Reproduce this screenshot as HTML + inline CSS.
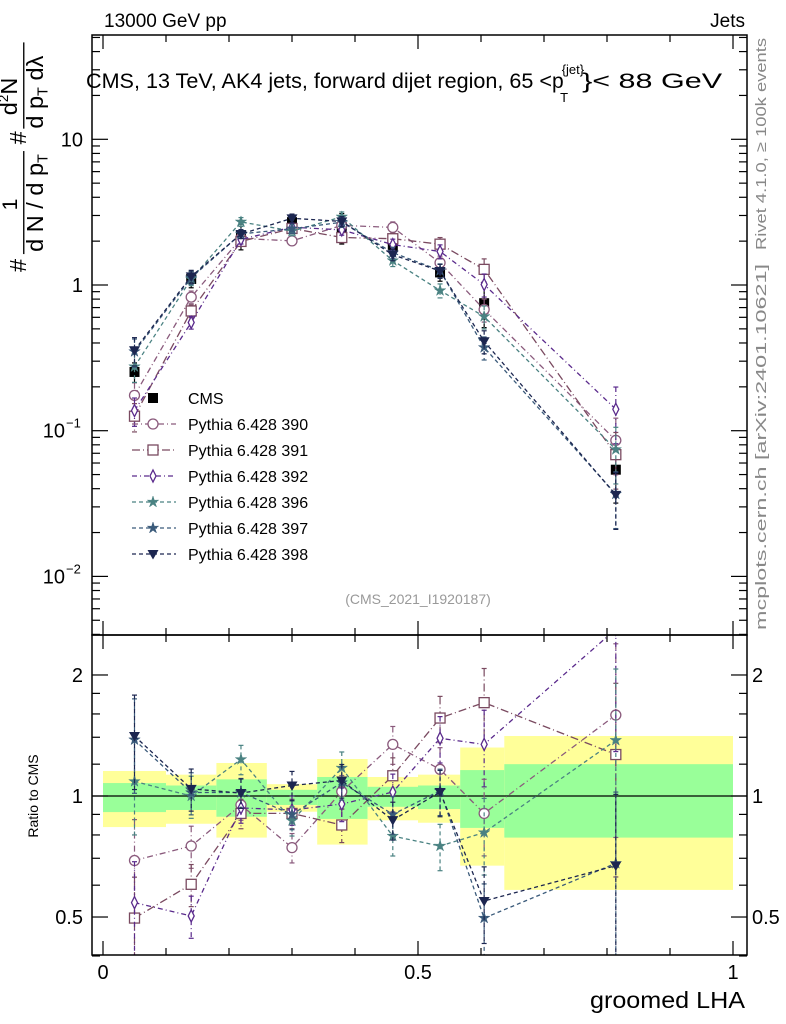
<!DOCTYPE html>
<html><head><meta charset="utf-8">
<style>
html,body{margin:0;padding:0;background:#fff;}
svg{display:block;font-family:"Liberation Sans",sans-serif;}
</style></head>
<body>
<svg id="chart" width="786" height="1024" viewBox="0 0 786 1024" xmlns="http://www.w3.org/2000/svg">
<g id="bands"></g>
<g id="marks"></g>
<g id="axes"></g>
<text x="104" y="27" font-size="19">13000 GeV pp</text>
<text x="745" y="27" font-size="19" text-anchor="end">Jets</text>
<text x="86" y="88" font-size="21"><tspan textLength="466" lengthAdjust="spacingAndGlyphs">CMS, 13 TeV, AK4 jets, forward dijet region, 65 &lt;</tspan><tspan>p</tspan><tspan font-size="13" dx="-2" dy="-14">{jet}</tspan><tspan font-size="13" dx="-24" dy="28">T</tspan><tspan dx="14" dy="-14" textLength="140" lengthAdjust="spacingAndGlyphs">}&lt; 88 GeV</tspan></text>
<g font-size="21" transform="translate(26,272) rotate(-90) scale(1.12)">
<text x="0" y="0">#</text>
<text x="18" y="15">d N / d p<tspan font-size="13" dy="4">T</tspan></text>
<text x="55" y="-8" font-size="19">1</text>
<line x1="16" y1="-2" x2="108" y2="-2" stroke="#000" stroke-width="1.2"/>
<text x="114" y="0">#</text>
<text x="128" y="15">d p<tspan font-size="13" dy="4">T</tspan><tspan dy="-4"> dλ</tspan></text>
<text x="140" y="-8">d<tspan font-size="12" dy="-8">2</tspan><tspan dy="8">N</tspan></text>
<line x1="128" y1="-2" x2="205" y2="-2" stroke="#000" stroke-width="1.2"/>
</g>
<text transform="translate(766,250) rotate(-90)" font-size="15" fill="#888" textLength="212" lengthAdjust="spacingAndGlyphs">Rivet 4.1.0, ≥ 100k events</text>
<text transform="translate(766,630) rotate(-90)" font-size="15" fill="#888" textLength="366" lengthAdjust="spacingAndGlyphs">mcplots.cern.ch [arXiv:2401.10621]</text>
<text x="418" y="604" font-size="14" fill="#999" text-anchor="middle">(CMS_2021_I1920187)</text>
<text transform="translate(38,796) rotate(-90)" font-size="14" text-anchor="middle">Ratio to CMS</text>
<text x="745" y="1008" font-size="23" text-anchor="end" textLength="155" lengthAdjust="spacingAndGlyphs">groomed LHA</text>
<g id="legend"></g>
</svg>
<script>
const NS="http://www.w3.org/2000/svg";
const binCenters=[0.05,0.14,0.219,0.30,0.379,0.46,0.535,0.605,0.814];
const binEdges=[0,0.10,0.18,0.26,0.34,0.42,0.50,0.567,0.637,1.0];
const cmsValues=[0.253,1.1,2.2,2.7,2.5,1.85,1.22,0.75,0.054];
const bandTotalUp=[1.154,1.13,1.208,1.07,1.236,1.115,1.13,1.32,1.41];
const bandTotalDn=[0.837,0.853,0.788,0.914,0.757,0.87,0.858,0.671,0.584];
const bandStatUp=[1.077,1.062,1.10,1.036,1.115,1.054,1.062,1.16,1.20];
const bandStatDn=[0.912,0.923,0.888,0.95,0.877,0.94,0.928,0.833,0.788];
const ratio390=[0.691,0.751,0.95,0.744,1.026,1.344,1.165,0.905,1.59];
const ratio391=[0.497,0.603,0.905,0.905,0.847,1.123,1.563,1.707,1.268];
const ratio392=[0.543,0.503,0.934,0.923,0.955,1.023,1.392,1.344,2.6];
const ratio396=[1.087,1.0,1.233,0.868,1.174,0.795,0.751,0.811,1.376];
const ratio397=[1.38,1.02,1.02,0.90,1.08,0.90,1.03,0.497,0.68];
const ratio398=[1.41,1.042,1.017,1.062,1.093,0.871,1.023,0.548,0.671];
const mcRelErr=[0.22,0.10,0.07,0.07,0.08,0.09,0.11,0.18,0.42];
const seriesNames=["Pythia 6.428 390","Pythia 6.428 391","Pythia 6.428 392","Pythia 6.428 396","Pythia 6.428 397","Pythia 6.428 398"];
const seriesRatios=[ratio390,ratio391,ratio392,ratio396,ratio397,ratio398];
const seriesColors=["#8a5a7c","#7a4a60","#5a2a8c","#4a8282","#3a5a7a","#1c2650"];
const seriesDash=["6,3,1,3","8,3,1,3","5,3,1,3","4,3","4,3","4,3"];
const seriesMarker=["circle","square","diamond","star","star","tri"];

const X0=92,X1=747,YT=35,YM=635,YB=955;
const xs=v=>103+630*v;
const ym=v=>285-145.7*Math.log10(v);
const yr=v=>796-402*Math.log10(v);

function el(tag,attrs,parent){const e=document.createElementNS(NS,tag);for(const k in attrs)e.setAttribute(k,attrs[k]);parent.appendChild(e);return e;}
const bands=document.getElementById('bands'),marks=document.getElementById('marks'),axes=document.getElementById('axes'),legend=document.getElementById('legend');

const defs=el('defs',{},document.getElementById('chart'));
const cm=el('clipPath',{id:'cmain'},defs);el('rect',{x:X0,y:YT,width:X1-X0,height:YM-YT},cm);
const cr=el('clipPath',{id:'cratio'},defs);el('rect',{x:X0,y:YM,width:X1-X0,height:YB-YM},cr);

for(let i=0;i<binCenters.length;i++){
  const x=xs(binEdges[i]),w=xs(binEdges[i+1])-x;
  const b1=el('rect',{x:x,y:yr(bandTotalUp[i]),width:w,height:yr(bandTotalDn[i])-yr(bandTotalUp[i]),fill:'#ffff99'},bands);
  
  
  const b2=el('rect',{x:x,y:yr(bandStatUp[i]),width:w,height:yr(bandStatDn[i])-yr(bandStatUp[i]),fill:'#99ff99'},bands);
  
  
}
const l1=el('line',{x1:X0,x2:X1,y1:yr(1),y2:yr(1),stroke:'#000','stroke-width':1.3},bands);



function marker(kind,x,y,color,g,s){
  s=s||5;
  if(kind==='circle')return el('circle',{cx:x,cy:y,r:s,fill:'#fff',stroke:color,'stroke-width':1.3},g);
  if(kind==='square')return el('rect',{x:x-s,y:y-s,width:2*s,height:2*s,fill:'#fff',stroke:color,'stroke-width':1.3},g);
  if(kind==='diamond')return el('polygon',{points:`${x},${y-s*1.2} ${x+s*0.6},${y} ${x},${y+s*1.2} ${x-s*0.6},${y}`,fill:'#fff',stroke:color,'stroke-width':1.3},g);
  if(kind==='star'){let p=[];for(let k=0;k<10;k++){const r=k%2?s*0.45:s*1.2,a=-Math.PI/2+k*Math.PI/5;p.push((x+r*Math.cos(a)).toFixed(1)+','+(y+r*Math.sin(a)).toFixed(1));}return el('polygon',{points:p.join(' '),fill:color,stroke:color,'stroke-width':0.5},g);}
  if(kind==='tri')return el('polygon',{points:`${x-s*1.1},${y-s*0.8} ${x+s*1.1},${y-s*0.8} ${x},${y+s*1.1}`,fill:color},g);
  if(kind==='cms')return el('rect',{x:x-s,y:y-s,width:2*s,height:2*s,fill:'#000'},g);
}

function drawSeries(vals,errs,yf,clip,kind,color,dash,name,g0){
  const g=el('g',{'clip-path':`url(#${clip})`},g0);
  
  
  if(dash!==null){
    const pts=vals.map((v,i)=>xs(binCenters[i]).toFixed(1)+','+yf(v).toFixed(1)).join(' ');
    el('polyline',{points:pts,fill:'none',stroke:color,'stroke-width':1.3,'stroke-dasharray':dash},g);
  }
  vals.forEach((v,i)=>{
    const x=xs(binCenters[i]);
    const up=yf(v*(1+errs[i])),dn=yf(Math.max(v*(1-errs[i]),1e-4));
    el('line',{x1:x,x2:x,y1:up,y2:dn,stroke:color,'stroke-width':1.2,'stroke-dasharray':dash||'none'},g);
    el('line',{x1:x-2.5,x2:x+2.5,y1:up,y2:up,stroke:color,'stroke-width':1.2},g);
    el('line',{x1:x-2.5,x2:x+2.5,y1:dn,y2:dn,stroke:color,'stroke-width':1.2},g);
    const m=marker(kind,x,yf(v),color,g);
    
    
  });
}
const cmsErr=bandTotalUp.map(u=>u-1);
drawSeries(cmsValues,cmsErr,ym,'cmain','cms','#000',null,'cms-data',marks);
seriesRatios.forEach((r,k)=>{
  const vals=r.map((q,i)=>q*cmsValues[i]);
  drawSeries(vals,mcRelErr,ym,'cmain',seriesMarker[k],seriesColors[k],seriesDash[k],'series-'+seriesNames[k].slice(-3),marks);
  drawSeries(r,mcRelErr.map(e=>e*1.2),yr,'cratio',seriesMarker[k],seriesColors[k],seriesDash[k],'ratio-series-'+seriesNames[k].slice(-3),marks);
});

el('rect',{x:X0,y:YT,width:X1-X0,height:YM-YT,fill:'none',stroke:'#000','stroke-width':1.5},axes);
el('rect',{x:X0,y:YM,width:X1-X0,height:YB-YM,fill:'none',stroke:'#000','stroke-width':1.5},axes);
for(let k=0;k<=10;k++){
  const v=k/10,x=xs(v),L=(k%5===0)?14:7;
  el('line',{x1:x,x2:x,y1:YB,y2:YB-L,stroke:'#000','stroke-width':1.2},axes);
  el('line',{x1:x,x2:x,y1:YM,y2:YM-L,stroke:'#000','stroke-width':1.2},axes);
  el('line',{x1:x,x2:x,y1:YT,y2:YT+L,stroke:'#000','stroke-width':1.2},axes);
  el('line',{x1:x,x2:x,y1:YM,y2:YM+L,stroke:'#000','stroke-width':1.2},axes);
}
const xTickLabels=["0","0.5","1"],xTickVals=[0,0.5,1];
xTickVals.forEach((v,i)=>{const t=el('text',{x:xs(v),y:979,'font-size':20,'text-anchor':'middle'},axes);t.textContent=xTickLabels[i];

});
for(let d=-3;d<=1;d++){for(let m=1;m<=9;m++){const v=m*Math.pow(10,d),y=ym(v);if(y<YT||y>YM)continue;const L=m===1?16:8;
el('line',{x1:X0,x2:X0+L,y1:y,y2:y,stroke:'#000','stroke-width':1.2},axes);el('line',{x1:X1,x2:X1-L,y1:y,y2:y,stroke:'#000','stroke-width':1.2},axes);}}
const yMainVals=[10,1,0.1,0.01];
const yMainLabels=["10","1","10","10"];
const yMainExp=["","","−1","−2"];
yMainVals.forEach((v,i)=>{const t=el('text',{x:yMainExp[i]?65:83,y:ym(v)+7,'font-size':20,'text-anchor':'end'},axes);t.textContent=yMainLabels[i];


if(yMainExp[i]){const e=el('text',{x:66,y:ym(v)-3,'font-size':13},axes);e.textContent=yMainExp[i];}});
const rMinor=[0.4,0.5,0.6,0.7,0.8,0.9,1,2];
rMinor.forEach(v=>{const y=yr(v),L=(v===0.5||v===1||v===2)?16:8;
el('line',{x1:X0,x2:X0+L,y1:y,y2:y,stroke:'#000','stroke-width':1.2},axes);el('line',{x1:X1,x2:X1-L,y1:y,y2:y,stroke:'#000','stroke-width':1.2},axes);});
[1.2,1.4,1.6,1.8].forEach(v=>{const y=yr(v);el('line',{x1:X0,x2:X0+8,y1:y,y2:y,stroke:'#000','stroke-width':1.2},axes);el('line',{x1:X1,x2:X1-8,y1:y,y2:y,stroke:'#000','stroke-width':1.2},axes);});
const rTickVals=[2,1,0.5],rTickLabels=["2","1","0.5"];
rTickVals.forEach((v,i)=>{const t=el('text',{x:83,y:yr(v)+7,'font-size':20,'text-anchor':'end'},axes);t.textContent=rTickLabels[i];


const t2=el('text',{x:752,y:yr(v)+7,'font-size':20},axes);t2.textContent=rTickLabels[i];

});

const legNames=["CMS"].concat(seriesNames);
legNames.forEach((n,i)=>{
  const y=398+26*i;
  const g=el('g',{},legend);
  
  
  if(i===0){marker('cms',153,y,'#000',g,5);}
  else{const k=i-1;el('line',{x1:132,x2:176,y1:y,y2:y,stroke:seriesColors[k],'stroke-width':1.3,'stroke-dasharray':seriesDash[k]},g);marker(seriesMarker[k],153,y,seriesColors[k],g);}
  const t=el('text',{x:188,y:y+6,'font-size':16},g);t.textContent=n;
});
</script>
</body></html>
